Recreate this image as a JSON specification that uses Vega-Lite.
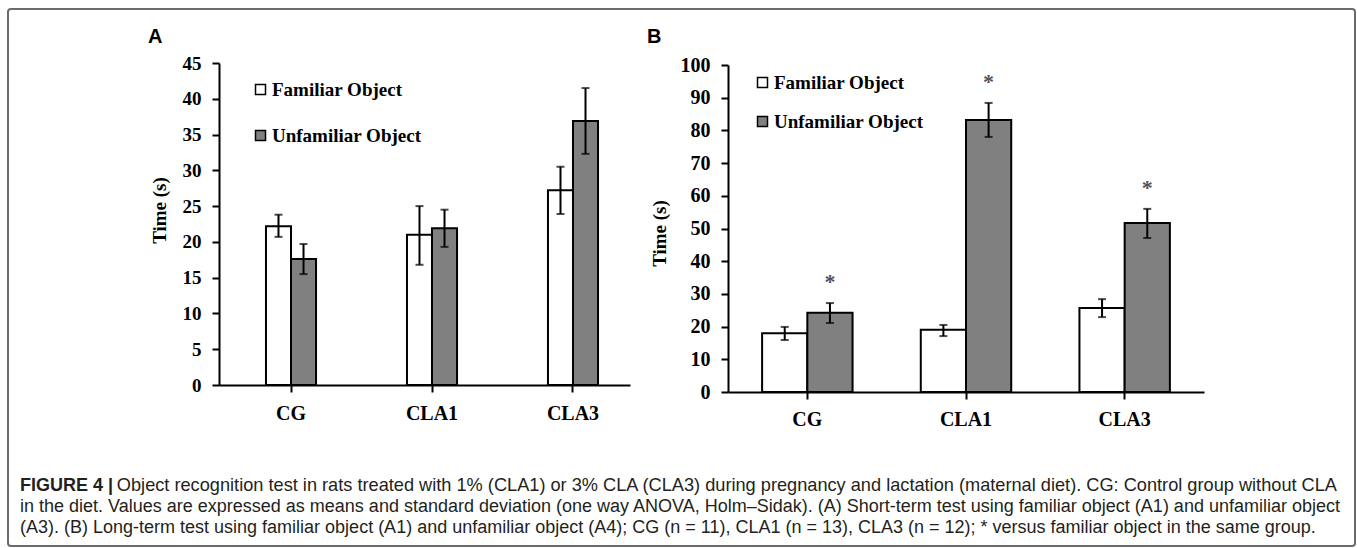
{
  "$schema": "https://vega.github.io/schema/vega-lite/v6.json",
  "width": 1357,
  "height": 548,
  "autosize": {"type": "fit", "contains": "padding"},
  "padding": {"left": 8, "top": 9, "right": 2, "bottom": 2},
  "background": "white",
  "config": {
    "view": {"stroke": "#6b6b6b", "strokeWidth": 2, "cornerRadius": 3},
    "axis": {
      "grid": false,
      "domainColor": "black",
      "domainWidth": 2,
      "tickColor": "black",
      "tickWidth": 2,
      "tickSize": 7,
      "labelFont": "Liberation Serif",
      "labelFontWeight": "bold",
      "labelColor": "black",
      "titleFont": "Liberation Serif",
      "titleFontWeight": "bold",
      "titleColor": "black"
    },
    "legend": {
      "symbolType": "square",
      "symbolSize": 100,
      "symbolStrokeColor": "black",
      "symbolStrokeWidth": 1.5,
      "labelFont": "Liberation Serif",
      "labelFontWeight": "bold",
      "labelFontSize": 19,
      "labelColor": "black",
      "labelOffset": 2,
      "labelLimit": 300,
      "padding": 0,
      "offset": 0
    }
  },
  "datasets": {
    "A": [
      {"group": "CG", "series": "Familiar Object", "mean": 22.2, "lo": 20.7, "hi": 23.8},
      {"group": "CG", "series": "Unfamiliar Object", "mean": 17.6, "lo": 15.5, "hi": 19.7},
      {"group": "CLA1", "series": "Familiar Object", "mean": 21.0, "lo": 16.8, "hi": 25.0},
      {"group": "CLA1", "series": "Unfamiliar Object", "mean": 21.9, "lo": 19.3, "hi": 24.5},
      {"group": "CLA3", "series": "Familiar Object", "mean": 27.2, "lo": 23.9, "hi": 30.5},
      {"group": "CLA3", "series": "Unfamiliar Object", "mean": 36.9, "lo": 32.3, "hi": 41.5}
    ],
    "B": [
      {"group": "CG", "series": "Familiar Object", "mean": 18.0, "lo": 15.9, "hi": 19.9, "sig": ""},
      {"group": "CG", "series": "Unfamiliar Object", "mean": 24.2, "lo": 21.1, "hi": 27.2, "sig": "*"},
      {"group": "CLA1", "series": "Familiar Object", "mean": 19.0, "lo": 17.1, "hi": 20.5, "sig": ""},
      {"group": "CLA1", "series": "Unfamiliar Object", "mean": 83.2, "lo": 78.0, "hi": 88.4, "sig": "*"},
      {"group": "CLA3", "series": "Familiar Object", "mean": 25.7, "lo": 22.9, "hi": 28.4, "sig": ""},
      {"group": "CLA3", "series": "Unfamiliar Object", "mean": 51.7, "lo": 47.1, "hi": 56.0, "sig": "*"}
    ],
    "panels": [{"panel": "A"}, {"panel": "B"}],
    "caption": [
      {"line": 1, "side": "L", "role": "label", "text": "FIGURE 4 |"},
      {"line": 1, "side": "R", "role": "body", "text": "Object recognition test in rats treated with 1% (CLA1) or 3% CLA (CLA3) during pregnancy and lactation (maternal diet). CG: Control group without CLA"},
      {"line": 2, "side": "L", "role": "body", "text": "in the diet. Values are expressed as means and standard deviation (one way ANOVA, Holm–Sidak). (A) Short-term test using familiar object (A1) and unfamiliar object"},
      {"line": 3, "side": "L", "role": "body", "text": "(A3). (B) Long-term test using familiar object (A1) and unfamiliar object (A4); CG (n = 11), CLA1 (n = 13), CLA3 (n = 12); * versus familiar object in the same group."}
    ]
  },
  "layer": [
    {
      "data": {"name": "A"},
      "encoding": {
        "x": {
          "field": "group", "type": "nominal", "sort": ["CG", "CLA1", "CLA3"],
          "scale": {"range": [211, 622], "paddingInner": 0.645, "paddingOuter": 0.28, "align": 0.595},
          "axis": {"title": null, "orient": "bottom", "offset": -161, "labelFontSize": 20, "labelPadding": 11, "labelAngle": 0}
        },
        "xOffset": {
          "field": "series", "type": "nominal", "sort": ["Familiar Object", "Unfamiliar Object"],
          "scale": {"paddingInner": 0, "paddingOuter": 0}
        }
      },
      "layer": [
        {
          "mark": {"type": "bar", "stroke": "black", "strokeWidth": 2},
          "encoding": {
            "y": {
              "field": "mean", "type": "quantitative", "title": "Time (s)",
              "scale": {"domain": [0, 45], "range": [376, 54], "nice": false},
              "axis": {"orient": "left", "offset": -211, "values": [0, 5, 10, 15, 20, 25, 30, 35, 40, 45], "labelFontSize": 19, "labelPadding": 11, "titleFontSize": 19, "titlePadding": 13, "titleY": 201}
            },
            "fill": {
              "field": "series", "type": "nominal",
              "scale": {"domain": ["Familiar Object", "Unfamiliar Object"], "range": ["white", "#808080"]},
              "legend": {"title": null, "orient": "none", "legendX": 243, "legendY": 71, "rowPadding": 26}
            }
          }
        },
        {
          "mark": {"type": "rule", "color": "black", "strokeWidth": 2},
          "encoding": {
            "y": {"field": "lo", "type": "quantitative", "title": "Time (s)"},
            "y2": {"field": "hi"}
          }
        },
        {
          "mark": {"type": "tick", "orient": "horizontal", "size": 8, "thickness": 2, "color": "black"},
          "encoding": {"y": {"field": "hi", "type": "quantitative", "title": "Time (s)"}}
        },
        {
          "mark": {"type": "tick", "orient": "horizontal", "size": 8, "thickness": 2, "color": "black"},
          "encoding": {"y": {"field": "lo", "type": "quantitative", "title": "Time (s)"}}
        }
      ]
    },
    {
      "data": {"name": "B"},
      "encoding": {
        "x": {
          "field": "group", "type": "nominal", "sort": ["CG", "CLA1", "CLA3"],
          "scale": {"range": [720, 1196], "paddingInner": 0.43, "paddingOuter": 0.215},
          "axis": {"title": null, "orient": "bottom", "offset": -154, "labelFontSize": 20, "labelPadding": 10, "labelAngle": 0}
        },
        "xOffset": {
          "field": "series", "type": "nominal", "sort": ["Familiar Object", "Unfamiliar Object"],
          "scale": {"paddingInner": 0, "paddingOuter": 0}
        }
      },
      "layer": [
        {
          "mark": {"type": "bar", "stroke": "black", "strokeWidth": 2},
          "encoding": {
            "y": {
              "field": "mean", "type": "quantitative", "title": "Time (s)",
              "scale": {"domain": [0, 100], "range": [383, 56], "nice": false},
              "axis": {"orient": "left", "offset": -720, "values": [0, 10, 20, 30, 40, 50, 60, 70, 80, 90, 100], "labelFontSize": 20, "labelPadding": 11, "titleFontSize": 19, "titlePadding": 11, "titleY": 224}
            },
            "fill": {
              "field": "series", "type": "nominal",
              "scale": {"domain": ["Familiar Object", "Unfamiliar Object"], "range": ["white", "#808080"]},
              "legend": {"title": null, "orient": "none", "legendX": 745, "legendY": 64, "rowPadding": 19}
            }
          }
        },
        {
          "mark": {"type": "rule", "color": "black", "strokeWidth": 2},
          "encoding": {
            "y": {"field": "lo", "type": "quantitative", "title": "Time (s)"},
            "y2": {"field": "hi"}
          }
        },
        {
          "mark": {"type": "tick", "orient": "horizontal", "size": 8, "thickness": 2, "color": "black"},
          "encoding": {"y": {"field": "hi", "type": "quantitative", "title": "Time (s)"}}
        },
        {
          "mark": {"type": "tick", "orient": "horizontal", "size": 8, "thickness": 2, "color": "black"},
          "encoding": {"y": {"field": "lo", "type": "quantitative", "title": "Time (s)"}}
        },
        {
          "mark": {"type": "text", "font": "Liberation Serif", "fontSize": 22, "fontWeight": "bold", "color": "#55505e", "baseline": "alphabetic", "dy": -14},
          "encoding": {
            "y": {"field": "hi", "type": "quantitative", "title": "Time (s)"},
            "text": {"field": "sig"}
          }
        }
      ]
    },
    {
      "data": {"name": "panels"},
      "mark": {"type": "text", "font": "Liberation Sans", "fontWeight": "bold", "fontSize": 20, "align": "left", "baseline": "alphabetic", "color": "black"},
      "encoding": {
        "x": {"field": "panel", "type": "nominal", "scale": {"type": "point", "domain": ["A", "B"], "range": [140, 639], "padding": 0}, "axis": null},
        "y": {"datum": 0, "type": "quantitative", "scale": {"domain": [0, 1], "range": [34, 0]}, "axis": null},
        "text": {"field": "panel"}
      }
    },
    {
      "data": {"name": "caption"},
      "encoding": {
        "x": {"field": "side", "type": "nominal", "scale": {"type": "point", "domain": ["L", "R"], "range": [12, 1329], "padding": 0}, "axis": null},
        "y": {"field": "line", "type": "ordinal", "scale": {"type": "point", "domain": [1, 2, 3], "range": [482, 524], "padding": 0}, "axis": null},
        "text": {"field": "text"}
      },
      "layer": [
        {
          "transform": [{"filter": "datum.role === 'label'"}],
          "mark": {"type": "text", "font": "Liberation Sans", "fontWeight": "bold", "fontSize": 18, "align": "left", "baseline": "alphabetic", "color": "#231f20"}
        },
        {
          "transform": [{"filter": "datum.role === 'body' && datum.side === 'L'"}],
          "mark": {"type": "text", "font": "Liberation Sans", "fontSize": 18, "align": "left", "baseline": "alphabetic", "color": "#231f20"}
        },
        {
          "transform": [{"filter": "datum.side === 'R'"}],
          "mark": {"type": "text", "font": "Liberation Sans", "fontSize": 18.2, "align": "right", "baseline": "alphabetic", "color": "#231f20"}
        }
      ]
    }
  ],
  "resolve": {
    "scale": {"x": "independent", "y": "independent", "xOffset": "independent", "fill": "independent"},
    "axis": {"x": "independent", "y": "independent"},
    "legend": {"fill": "independent"}
  }
}
